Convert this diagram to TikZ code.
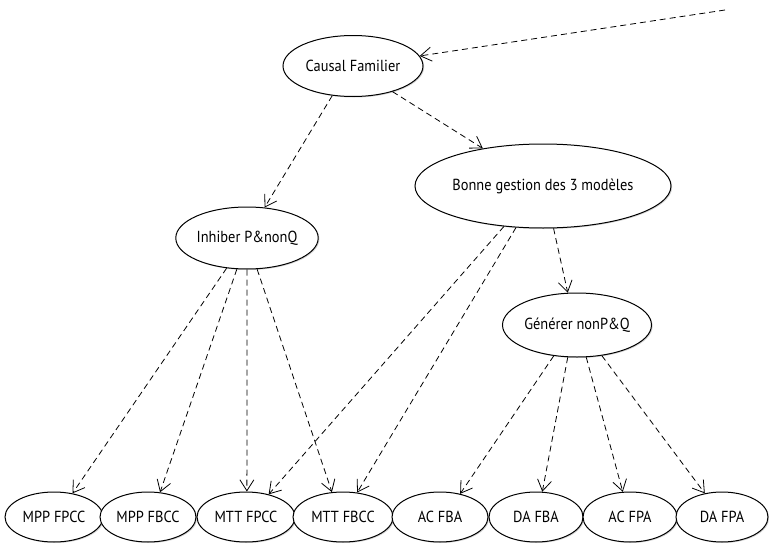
\documentclass[tikz,border=0pt]{standalone}
\usepackage{fontspec}
\setmainfont{PT Sans}[FakeStretch=0.9]
\usetikzlibrary{shapes.geometric,arrows.meta,shadows}
\begin{document}
\begin{tikzpicture}[x=1pt,y=-1pt,
  el/.style={ellipse,draw,line width=1pt,fill=white,inner sep=0pt,
    font=\fontsize{16}{17}\selectfont,
    drop shadow={shadow xshift=1.2pt,shadow yshift=-1pt,opacity=0.35}},
  link/.style={dashed,dash pattern=on 6pt off 4pt,line width=0.8pt,
    -{Straight Barb[length=11pt,width=14pt,line width=0.8pt]}}]
\useasboundingbox (0,0) rectangle (769,546);
\node[el,minimum width=140pt,minimum height=61pt] (cf) at (353,66) {Causal Familier};
\node[el,minimum width=228pt,minimum height=84pt] (bg) at (543,186) {Bonne gestion des 3 modèles};
\node[el,minimum width=140pt,minimum height=62pt] (ih) at (247,238) {Inhiber P\&nonQ};
\node[el,minimum width=140pt,minimum height=64pt] (gn) at (577,325) {Générer nonP\&Q};
\node[el,minimum width=98pt,minimum height=50pt] (m1) at (54,517) {MPP FPCC};
\node[el,minimum width=96pt,minimum height=50pt] (m2) at (148,517) {MPP FBCC};
\node[el,minimum width=98pt,minimum height=50pt] (m3) at (246,517) {MTT FPCC};
\node[el,minimum width=100pt,minimum height=50pt] (m4) at (343,517) {MTT FBCC};
\node[el,minimum width=96pt,minimum height=50pt] (a1) at (440,517) {AC FBA};
\node[el,minimum width=94pt,minimum height=50pt] (a2) at (536,517) {DA FBA};
\node[el,minimum width=94pt,minimum height=50pt] (a3) at (630,517) {AC FPA};
\node[el,minimum width=92pt,minimum height=50pt] (a4) at (722,517) {DA FPA};
\coordinate (ext) at (725,10);
\draw[link] (ext) -- (cf);
\draw[link] (cf.-125) -- (ih.60);
\draw[link] (cf.-33) -- (bg.148);
\draw[link] (ih.-124) -- (m1.52);
\draw[link] (ih.-108) -- (m2.64);
\draw[link] (ih.-90) -- (m3.88);
\draw[link] (ih.-72) -- (m4.114);
\draw[link] (bg.-134.6) -- (m3.45);
\draw[link] (bg.-123.5) -- (m4.60);
\draw[link] (bg.-76.5) -- (gn.106);
\draw[link] (gn.-127) -- (a1.49);
\draw[link] (gn.-106) -- (a2.76);
\draw[link] (gn.-74) -- (a3.106);
\draw[link] (gn.-51) -- (a4.126);
\end{tikzpicture}
\end{document}
